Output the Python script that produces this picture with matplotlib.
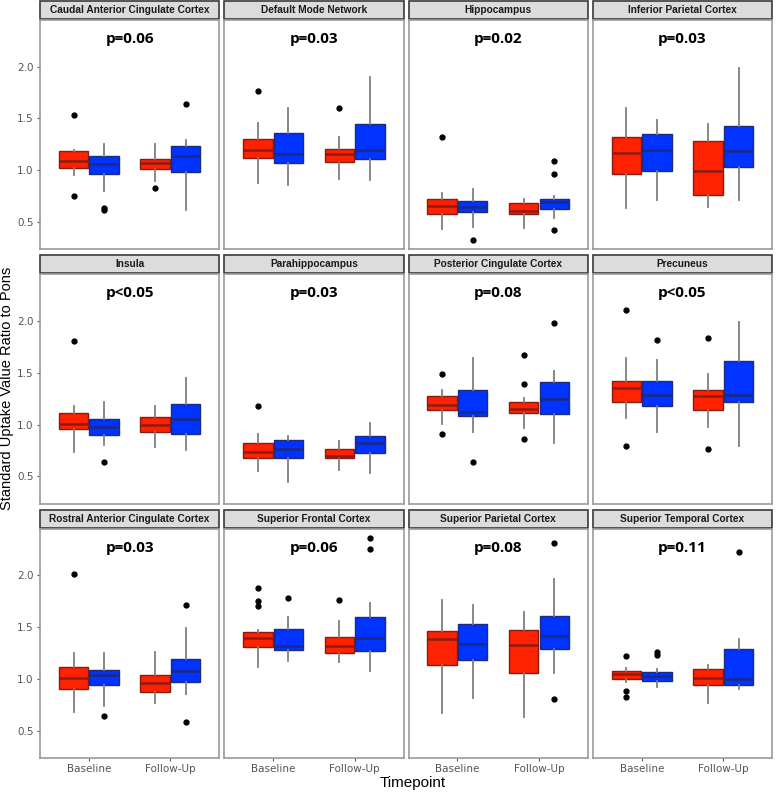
import matplotlib
matplotlib.use('Agg')
import matplotlib.pyplot as plt
from matplotlib.patches import Rectangle

# regions shown in the facets, row by row
regions = ["Caudal Anterior Cingulate Cortex", "Default Mode Network", "Hippocampus",
           "Inferior Parietal Cortex", "Insula", "Parahippocampus",
           "Posterior Cingulate Cortex", "Precuneus", "Rostral Anterior Cingulate Cortex",
           "Superior Frontal Cortex", "Superior Parietal Cortex", "Superior Temporal Cortex"]
pvals = ["p=0.06", "p=0.03", "p=0.02", "p=0.03", "p<0.05", "p=0.03",
         "p=0.08", "p<0.05", "p=0.03", "p=0.06", "p=0.08", "p=0.11"]
timepoints = ["Baseline", "Follow-Up"]

# each row: [red baseline, blue baseline, red follow-up, blue follow-up]
q1 = [[1.023, 0.968, 1.010, 0.980], [1.116, 1.074, 1.084, 1.110], [0.577, 0.600, 0.574, 0.626],
      [0.968, 0.990, 0.765, 1.029], [0.958, 0.903, 0.932, 0.913], [0.676, 0.676, 0.680, 0.728],
      [1.136, 1.084, 1.110, 1.104], [1.217, 1.175, 1.142, 1.217], [0.900, 0.939, 0.874, 0.968],
      [1.307, 1.275, 1.246, 1.265], [1.133, 1.184, 1.061, 1.288], [1.003, 0.984, 0.939, 0.939]]
med = [[1.090, 1.058, 1.065, 1.135], [1.194, 1.152, 1.158, 1.194], [0.652, 0.645, 0.606, 0.697],
       [1.165, 1.200, 0.994, 1.190], [1.006, 0.980, 1.000, 1.055], [0.735, 0.760, 0.700, 0.819],
       [1.190, 1.123, 1.149, 1.246], [1.356, 1.288, 1.275, 1.282], [1.010, 1.036, 0.964, 1.074],
       [1.392, 1.317, 1.317, 1.392], [1.385, 1.340, 1.327, 1.414], [1.045, 1.032, 1.006, 1.000]]
q3 = [[1.187, 1.135, 1.113, 1.232], [1.303, 1.361, 1.203, 1.445], [0.723, 0.706, 0.680, 0.719],
      [1.319, 1.352, 1.281, 1.423], [1.113, 1.058, 1.074, 1.200], [0.825, 0.848, 0.764, 0.890],
      [1.272, 1.333, 1.214, 1.408], [1.417, 1.420, 1.333, 1.618], [1.113, 1.087, 1.036, 1.191],
      [1.450, 1.479, 1.401, 1.602], [1.462, 1.530, 1.469, 1.605], [1.081, 1.071, 1.094, 1.285]]
whislo = [[0.950, 0.800, 0.900, 0.620], [0.877, 0.855, 0.913, 0.903], [0.435, 0.452, 0.439, 0.542],
          [0.632, 0.710, 0.648, 0.710], [0.738, 0.800, 0.786, 0.757], [0.550, 0.440, 0.560, 0.528],
          [1.003, 0.926, 0.970, 0.819], [1.068, 0.932, 0.974, 0.793], [0.680, 0.735, 0.767, 0.854],
          [1.113, 1.175, 1.162, 1.081], [0.673, 0.816, 0.635, 1.058], [0.968, 0.919, 0.764, 0.906]]
whishi = [[1.200, 1.258, 1.250, 1.290], [1.458, 1.597, 1.320, 1.903], [0.780, 0.820, 0.726, 0.755],
          [1.606, 1.484, 1.445, 1.990], [1.180, 1.220, 1.175, 1.453], [0.906, 0.890, 0.845, 1.016],
          [1.330, 1.640, 1.252, 1.518], [1.640, 1.621, 1.485, 1.994], [1.246, 1.246, 1.259, 1.495],
          [1.470, 1.600, 1.560, 1.734], [1.760, 1.718, 1.647, 1.964], [1.107, 1.097, 1.136, 1.385]]
outliers = [[[1.53, 0.755], [0.639, 0.62], [0.83], [1.64]],
            [[1.77], [], [1.603], []],
            [[1.32], [0.326], [], [1.09, 0.961, 0.419]],
            [[], [], [], []],
            [[1.81], [0.637], [], []],
            [[1.178], [], [], []],
            [[1.49, 0.909], [0.634], [1.673, 1.392, 0.858], [1.977]],
            [[2.107, 0.79], [1.816], [1.838, 0.76], []],
            [[2.013], [0.64], [], [1.712, 0.586]],
            [[1.88, 1.754, 1.70], [1.786], [1.763], [2.366, 2.259]],
            [[], [], [], [2.316, 0.809]],
            [[1.223, 0.887, 0.822], [1.259, 1.233], [], [2.229]]]

fills = ["#ff2200", "#0033ff"]
edges = ["#8a1b10", "#1c2a80"]

fig, axes = plt.subplots(3, 4, figsize=(7.76, 7.93), dpi=100, sharey=True)
fig.subplots_adjust(left=0.0515, right=0.995, top=0.9748, bottom=0.0441,
                    wspace=0.028, hspace=0.109)

strip_h = 18 / 229

for i, ax in enumerate(axes.flat):
    for j in range(4):
        stats = [dict(med=med[i][j], q1=q1[i][j], q3=q3[i][j],
                      whislo=whislo[i][j], whishi=whishi[i][j], fliers=outliers[i][j])]
        pos = (j // 2 + 1) + (-0.1875 if j % 2 == 0 else 0.1875)
        c = j % 2
        ax.bxp(stats, positions=[pos], widths=0.36, patch_artist=True, showcaps=False,
               boxprops=dict(facecolor=fills[c], edgecolor=edges[c], linewidth=1.0),
               medianprops=dict(color=edges[c], linewidth=1.8),
               whiskerprops=dict(color="#7f7f7f", linewidth=1.3),
               flierprops=dict(marker="o", markerfacecolor="black", markeredgecolor="black",
                               markersize=3.5),
               zorder=3)
    ax.set_xlim(0.4, 2.6)
    ax.set_ylim(0.235, 2.452)
    ax.set_yticks([0.5, 1.0, 1.5, 2.0])
    ax.set_yticklabels(["0.5", "1.0", "1.5", "2.0"])
    ax.set_xticks([1, 2])
    ax.set_xticklabels(timepoints)
    ax.tick_params(colors="#555555", labelcolor="#555555", labelsize=7.5, length=2.5,
                   width=0.8, pad=2)
    if i % 4 != 0:
        ax.tick_params(axis="y", left=False, labelleft=False)
    if i < 8:
        ax.tick_params(axis="x", bottom=False, labelbottom=False)
    for s in ax.spines.values():
        s.set_color("#9a9a9a")
        s.set_linewidth(1.2)
    ax.text(1.5, 2.27, pvals[i], ha="center", va="center", fontsize=11, fontweight="bold",
            family="Open Sans")
    # facet strip
    ax.add_patch(Rectangle((0, 1.004), 1, strip_h, transform=ax.transAxes, clip_on=False,
                           facecolor="#dcdcdc", edgecolor="#3a3a3a", linewidth=1.2))
    ax.text(0.5, 1.004 + strip_h / 2, regions[i], transform=ax.transAxes, ha="center",
            va="center", fontsize=7.3, fontweight="bold", family="Liberation Sans",
            color="#1a1a1a")

fig.text(0.0095, 0.51, "Standard Uptake Value Ratio to Pons", rotation=90, ha="center",
         va="center", fontsize=10.5, family="Liberation Sans")
fig.text(0.532, 0.012, "Timepoint", ha="center", va="center", fontsize=11,
         family="Liberation Sans")

fig.savefig("out.png", dpi=100)
